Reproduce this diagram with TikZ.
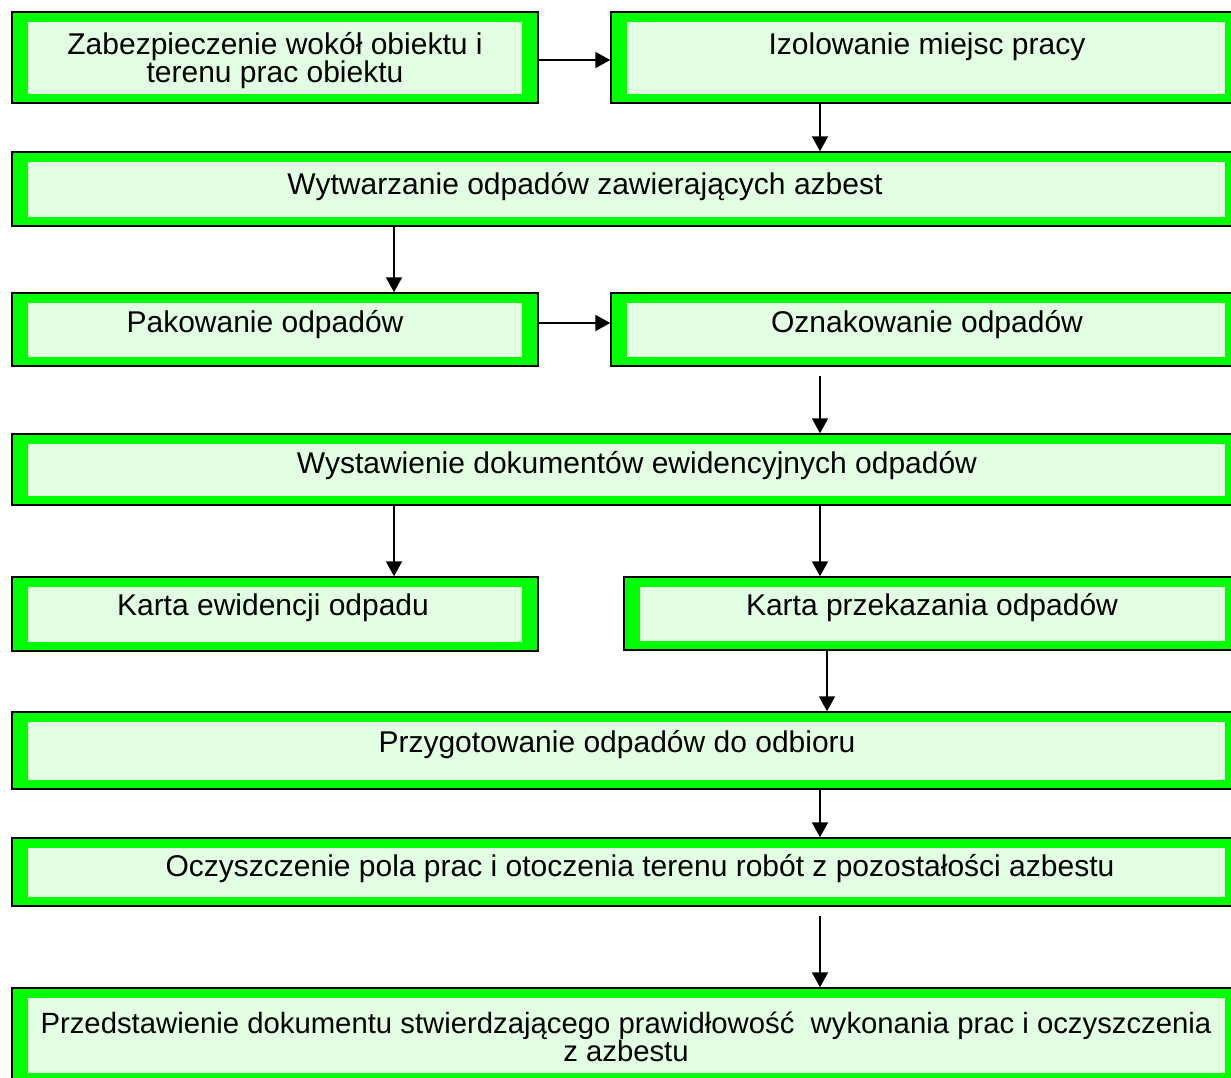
\documentclass[tikz,border=0pt]{standalone}
\usepackage{fontspec}
\setmainfont{Liberation Sans}
\usepackage{tikz}
\usetikzlibrary{calc}
\usetikzlibrary{arrows.meta}
\definecolor{ramka}{RGB}{0,255,0}
\definecolor{tlo}{RGB}{227,255,227}

\tikzset{
 krok/.style={draw=black, line width=1.5pt, fill=ramka, inner sep=0pt,
   path picture={\fill[tlo] ([shift={(16pt,-10pt)}]path picture bounding box.north west) rectangle ([shift={(-16pt,9pt)}]path picture bounding box.south east);}},
 opis/.style={font=\fontsize{30}{28}\selectfont, align=center, inner sep=0pt},
 strz/.style={-{Triangle[length=15pt,width=16pt]}, line width=2pt}
}

\begin{document}
\begin{tikzpicture}[x=1pt, y=-1pt]
\path[use as bounding box, clip] (0,0) rectangle (1231,1077);

\coordinate (kolL) at (394,0);
\coordinate (kolR) at (820,0);

\node[krok, minimum width=526pt, minimum height=91pt] (zab) at (275,57.5) {};
\node[opis] (tzab) at (275,61) {Zabezpieczenie wokół obiektu i\\terenu prac obiektu};

\node[krok, minimum width=630pt, minimum height=91pt] (izo) at (926,57.5) {};
\node[opis] (tizo) at (927,47) {Izolowanie miejsc pracy};

\node[krok, minimum width=1229pt, minimum height=74pt] (wyt) at (626.5,189) {};
\node[opis] (twyt) at (585,187) {Wytwarzanie odpadów zawierających azbest};

\node[krok, minimum width=526pt, minimum height=73pt] (pak) at (275,329.5) {};
\node[opis] (tpak) at (265,325) {Pakowanie odpadów};

\node[krok, minimum width=630pt, minimum height=73pt] (ozn) at (926,329.5) {};
\node[opis] (tozn) at (927,325) {Oznakowanie odpadów};

\node[krok, minimum width=1229pt, minimum height=71pt] (wys) at (626.5,469.5) {};
\node[opis] (twys) at (637,466) {Wystawienie dokumentów ewidencyjnych odpadów};

\node[krok, minimum width=526pt, minimum height=74pt] (kew) at (275,614) {};
\node[opis] (tkew) at (273,608) {Karta ewidencji odpadu};

\node[krok, minimum width=617pt, minimum height=73pt] (kpr) at (932.5,613.5) {};
\node[opis] (tkpr) at (932,608) {Karta przekazania odpadów};

\node[krok, minimum width=1229pt, minimum height=77pt] (prz) at (626.5,750.5) {};
\node[opis] (tprz) at (617,745) {Przygotowanie odpadów do odbioru};

\node[krok, minimum width=1229pt, minimum height=68pt] (ocz) at (626.5,872) {};
\node[opis] (tocz) at (640,869) {Oczyszczenie pola prac i otoczenia terenu robót z pozostałości azbestu};

\node[krok, minimum width=1229pt, minimum height=94pt] (prd) at (626.5,1035) {};
\node[opis, font=\fontsize{29.3}{28}\selectfont] (tprd) at (626,1037) {Przedstawienie dokumentu stwierdzającego prawidłowość\ \ wykonania prac i oczyszczenia\\z azbestu};

% strzalki
\draw[strz] (zab.east |- 0,60) -- (izo.west |- 0,60);
\draw[strz] (izo.south -| kolR) -- (wyt.north -| kolR);
\draw[strz] (wyt.south -| kolL) -- (pak.north -| kolL);
\draw[strz] (pak.east |- 0,323) -- (ozn.west |- 0,323);
\draw[strz] ([yshift=-9pt]ozn.south -| kolR) -- (wys.north -| kolR);
\draw[strz] (wys.south -| kolL) -- (kew.north -| kolL);
\draw[strz] (wys.south -| kolR) -- (kpr.north -| kolR);
\draw[strz] (kpr.south -| 827,0) -- (prz.north -| 827,0);
\draw[strz] (prz.south -| kolR) -- (ocz.north -| kolR);
\draw[strz] ([yshift=-9pt]ocz.south -| kolR) -- (prd.north -| kolR);

\end{tikzpicture}
\end{document}
